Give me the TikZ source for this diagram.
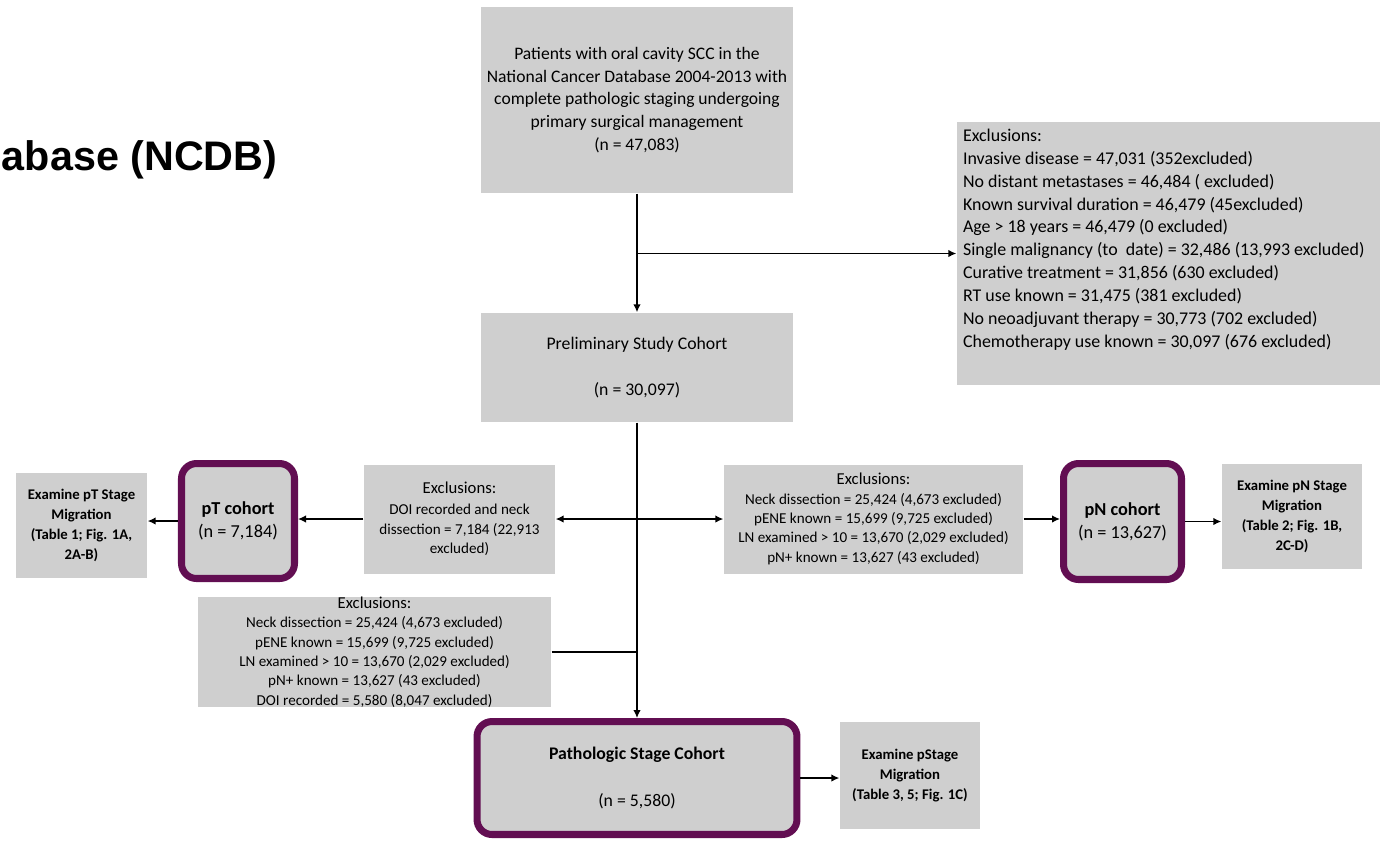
\documentclass[tikz,border=0pt]{standalone}
\usepackage{fontspec}
\setmainfont{Carlito}
\newfontfamily\headfont{Liberation Sans}
\usetikzlibrary{arrows.meta}
\definecolor{boxgray}{RGB}{207,207,207}
\definecolor{cohortpurple}{RGB}{98,14,82}

\begin{document}
\begin{tikzpicture}  % ------ NCDB oral cavity SCC cohorts -------------------
      [x={(0.02cm,0cm)},y={(0cm,-0.02cm)},
       box/.style={fill=boxgray, inner sep=0pt, align=center},
       cohort/.style={box, draw=cohortpurple, line width=4pt, rounded corners=0.3cm,
                      font=\fontsize{10.4}{13}\selectfont},
       examine/.style={box, minimum width=2.7cm, font=\bfseries\fontsize{8.4}{11.4}\selectfont},
       excl/.style={box, minimum height=2.18cm, font=\fontsize{8.6}{11}\selectfont},
       >={Latex[length=1.6mm,width=1.5mm]}, line width=0.8pt]

    \useasboundingbox (0,0) rectangle (1380,840);

    \node (head) [anchor=east, inner sep=0pt, font=\headfont\bfseries\fontsize{23.5}{27}\selectfont] at (278,160) {abase (NCDB)};

    \node (start) [box, minimum width=6.24cm, minimum height=3.72cm, font=\fontsize{10}{13}\selectfont]
      at (637,100) {Patients with oral cavity SCC in the\\ National Cancer Database 2004-2013 with\\
      complete pathologic staging undergoing\\ primary surgical management\\ (n = 47,083)};
    \node (exclR) [box, minimum width=8.5cm, minimum height=5.26cm, inner sep=0pt] at (1169.5,253.5)
      {\begin{minipage}[c][5.26cm][t]{8.26cm}\fontsize{10.2}{13}\selectfont\vspace*{4pt}
      Exclusions:\\ Invasive disease = 47,031 (352excluded)\\ No distant metastases = 46,484 ( excluded)\\
      Known survival duration = 46,479 (45excluded)\\ Age > 18 years = 46,479 (0 excluded)\\
      Single malignancy (to~ date) = 32,486 (13,993 excluded)\\ Curative treatment = 31,856 (630 excluded)\\
      RT use known = 31,475 (381 excluded)\\ No neoadjuvant therapy = 30,773 (702 excluded)\\
      Chemotherapy use known = 30,097 (676 excluded)\end{minipage}};
    \node (prelim) [box, minimum width=6.24cm, minimum height=2.18cm, font=\fontsize{10.1}{12}\selectfont]
      at (637,367.5) {Preliminary Study Cohort\\[0.5cm] (n = 30,097)};

    % pT branch
    \node (exclT) [excl, minimum width=3.82cm] at (459.5,519)
      {{\fontsize{9.5}{11}\selectfont Exclusions:}\\[1pt] DOI recorded and neck\\ dissection = 7,184 (22,913\\ excluded)};
    \node (pT) [cohort, minimum width=2.26cm, minimum height=2.3cm] at (238,521) {\textbf{pT cohort}\\ (n = 7,184)};
    \node (exT) [examine, minimum width=2.62cm, minimum height=2.1cm] at (81.5,525.5)
      {Examine pT Stage\\ Migration\\ (Table 1; Fig. 1A,\\ 2A-B)};

    % pN branch
    \node (exclN) [excl, minimum width=5.98cm] at (873.5,519)
      {{\fontsize{9.5}{11}\selectfont Exclusions:}\\ Neck dissection = 25,424 (4,673 excluded)\\ pENE known = 15,699 (9,725 excluded)\\
      LN examined > 10 = 13,670 (2,029 excluded)\\ pN+ known = 13,627 (43 excluded)};
    \node (pN) [cohort, minimum width=2.36cm, minimum height=2.32cm] at (1122.5,521.5) {\textbf{pN cohort}\\ (n = 13,627)};
    \node (exN) [examine, minimum width=2.8cm, minimum height=2.1cm] at (1292,516.5)
      {Examine pN Stage\\ Migration\\ (Table 2; Fig. 1B,\\ 2C-D)};

    % pStage branch
    \node (exclB) [excl, minimum width=7.06cm] at (374.5,652)
      {{\fontsize{9.5}{11}\selectfont Exclusions:}\\ Neck dissection = 25,424 (4,673 excluded)\\ pENE known = 15,699 (9,725 excluded)\\
      LN examined > 10 = 13,670 (2,029 excluded)\\ pN+ known = 13,627 (43 excluded)\\ DOI recorded = 5,580 (8,047 excluded)};
    \node (patho) [cohort, minimum width=6.4cm, minimum height=2.26cm, font=\fontsize{10.1}{12}\selectfont] at (637,778)
      {\textbf{Pathologic Stage Cohort}\\[0.5cm] (n = 5,580)};
    \node (exP) [examine, minimum width=2.8cm, minimum height=2.14cm] at (910,775.5)
      {Examine pStage\\ Migration\\ (Table 3, 5; Fig. 1C)};

    \draw[->] (start.south) -- (prelim.north);
    \draw[->] (start.south |- exclR.west) -- (exclR.west);
    \draw[->] (prelim.south) -- (patho.north);
    \draw[<->] (exclT.east) -- (exclN.west);
    \draw[->] (exclT.west) -- (exclT.west -| pT.east);
    \draw[->] (pT.west) -- (pT.west -| exT.east);
    \draw[->] (exclN.east) -- (exclN.east -| pN.west);
    \draw[->] (pN.east) -- (pN.east -| exN.west);
    \draw (exclB.east) -- (exclB.east -| prelim.south);  % joins the trunk
    \draw[->] (patho.east) -- (patho.east -| exP.west);
\end{tikzpicture}
\end{document}
